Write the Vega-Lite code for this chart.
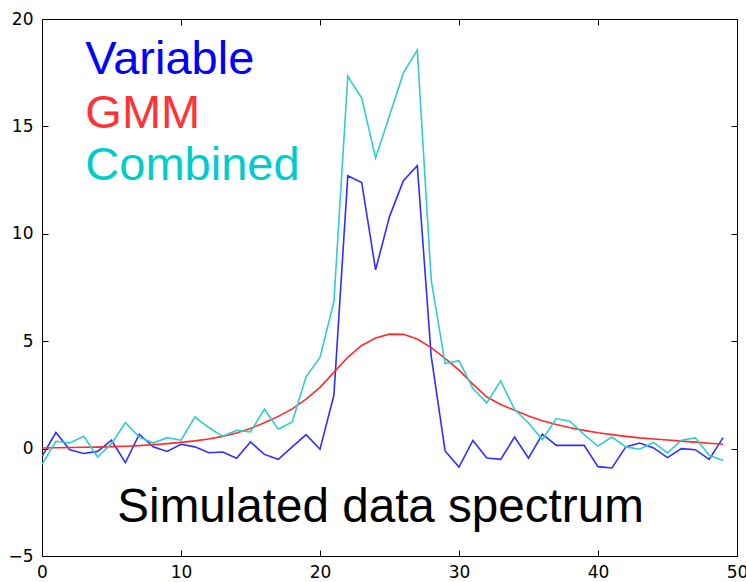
{
  "$schema": "https://vega.github.io/schema/vega-lite/v6.json",
  "width": 695,
  "height": 537,
  "autosize": {"type": "none"},
  "padding": {"left": 42, "top": 19, "right": 9, "bottom": 26},
  "background": "white",
  "resolve": {"axis": {"x": "independent", "y": "independent"}},
  "config": {
    "view": {"stroke": "black", "strokeWidth": 1},
    "axis": {
      "grid": false,
      "domain": false,
      "tickColor": "black",
      "tickSize": -6,
      "tickWidth": 1,
      "labelFont": "DejaVu Sans",
      "labelFontSize": 17,
      "labelColor": "black",
      "title": null
    }
  },
  "datasets": {
    "lines": [
      {"x":0,"series":"Variable","y":-0.36},{"x":1,"series":"Variable","y":0.75},{"x":2,"series":"Variable","y":-0.05},{"x":3,"series":"Variable","y":-0.23},{"x":4,"series":"Variable","y":-0.13},{"x":5,"series":"Variable","y":0.39},{"x":6,"series":"Variable","y":-0.65},{"x":7,"series":"Variable","y":0.67},{"x":8,"series":"Variable","y":0.08},{"x":9,"series":"Variable","y":-0.13},
      {"x":10,"series":"Variable","y":0.2},{"x":11,"series":"Variable","y":0.08},{"x":12,"series":"Variable","y":-0.19},{"x":13,"series":"Variable","y":-0.16},{"x":14,"series":"Variable","y":-0.45},{"x":15,"series":"Variable","y":0.31},{"x":16,"series":"Variable","y":-0.27},{"x":17,"series":"Variable","y":-0.5},{"x":18,"series":"Variable","y":0.08},{"x":19,"series":"Variable","y":0.65},
      {"x":20,"series":"Variable","y":-0.03},{"x":21,"series":"Variable","y":2.49},{"x":22,"series":"Variable","y":12.7},{"x":23,"series":"Variable","y":12.39},{"x":24,"series":"Variable","y":8.32},{"x":25,"series":"Variable","y":10.8},{"x":26,"series":"Variable","y":12.47},{"x":27,"series":"Variable","y":13.17},{"x":28,"series":"Variable","y":4.3},{"x":29,"series":"Variable","y":-0.11},
      {"x":30,"series":"Variable","y":-0.86},{"x":31,"series":"Variable","y":0.38},{"x":32,"series":"Variable","y":-0.44},{"x":33,"series":"Variable","y":-0.5},{"x":34,"series":"Variable","y":0.54},{"x":35,"series":"Variable","y":-0.45},{"x":36,"series":"Variable","y":0.67},{"x":37,"series":"Variable","y":0.15},{"x":38,"series":"Variable","y":0.15},{"x":39,"series":"Variable","y":0.15},
      {"x":40,"series":"Variable","y":-0.84},{"x":41,"series":"Variable","y":-0.9},{"x":42,"series":"Variable","y":0.08},{"x":43,"series":"Variable","y":0.26},{"x":44,"series":"Variable","y":0.03},{"x":45,"series":"Variable","y":-0.42},{"x":46,"series":"Variable","y":0.0},{"x":47,"series":"Variable","y":-0.05},{"x":48,"series":"Variable","y":-0.5},{"x":49,"series":"Variable","y":0.51},

      {"x":0,"series":"GMM","y":0.03},{"x":1,"series":"GMM","y":0.04},{"x":2,"series":"GMM","y":0.05},{"x":3,"series":"GMM","y":0.06},{"x":4,"series":"GMM","y":0.07},{"x":5,"series":"GMM","y":0.09},{"x":6,"series":"GMM","y":0.11},{"x":7,"series":"GMM","y":0.14},{"x":8,"series":"GMM","y":0.18},{"x":9,"series":"GMM","y":0.23},
      {"x":10,"series":"GMM","y":0.29},{"x":11,"series":"GMM","y":0.36},{"x":12,"series":"GMM","y":0.45},{"x":13,"series":"GMM","y":0.57},{"x":14,"series":"GMM","y":0.73},{"x":15,"series":"GMM","y":0.94},{"x":16,"series":"GMM","y":1.2},{"x":17,"series":"GMM","y":1.5},{"x":18,"series":"GMM","y":1.85},{"x":19,"series":"GMM","y":2.3},
      {"x":20,"series":"GMM","y":2.85},{"x":21,"series":"GMM","y":3.55},{"x":22,"series":"GMM","y":4.25},{"x":23,"series":"GMM","y":4.8},{"x":24,"series":"GMM","y":5.15},{"x":25,"series":"GMM","y":5.33},{"x":26,"series":"GMM","y":5.32},{"x":27,"series":"GMM","y":5.1},{"x":28,"series":"GMM","y":4.7},{"x":29,"series":"GMM","y":4.2},
      {"x":30,"series":"GMM","y":3.65},{"x":31,"series":"GMM","y":3.0},{"x":32,"series":"GMM","y":2.4},{"x":33,"series":"GMM","y":2.05},{"x":34,"series":"GMM","y":1.79},{"x":35,"series":"GMM","y":1.52},{"x":36,"series":"GMM","y":1.3},{"x":37,"series":"GMM","y":1.12},{"x":38,"series":"GMM","y":0.97},{"x":39,"series":"GMM","y":0.85},
      {"x":40,"series":"GMM","y":0.74},{"x":41,"series":"GMM","y":0.65},{"x":42,"series":"GMM","y":0.57},{"x":43,"series":"GMM","y":0.5},{"x":44,"series":"GMM","y":0.45},{"x":45,"series":"GMM","y":0.4},{"x":46,"series":"GMM","y":0.35},{"x":47,"series":"GMM","y":0.3},{"x":48,"series":"GMM","y":0.25},{"x":49,"series":"GMM","y":0.2},

      {"x":0,"series":"Combined","y":-0.73},{"x":1,"series":"Combined","y":0.34},{"x":2,"series":"Combined","y":0.26},{"x":3,"series":"Combined","y":0.57},{"x":4,"series":"Combined","y":-0.39},{"x":5,"series":"Combined","y":0.23},{"x":6,"series":"Combined","y":1.21},{"x":7,"series":"Combined","y":0.54},{"x":8,"series":"Combined","y":0.26},{"x":9,"series":"Combined","y":0.51},
      {"x":10,"series":"Combined","y":0.39},{"x":11,"series":"Combined","y":1.47},{"x":12,"series":"Combined","y":0.98},{"x":13,"series":"Combined","y":0.57},{"x":14,"series":"Combined","y":0.85},{"x":15,"series":"Combined","y":0.78},{"x":16,"series":"Combined","y":1.83},{"x":17,"series":"Combined","y":0.9},{"x":18,"series":"Combined","y":1.24},{"x":19,"series":"Combined","y":3.34},
      {"x":20,"series":"Combined","y":4.24},{"x":21,"series":"Combined","y":6.84},{"x":22,"series":"Combined","y":17.33},{"x":23,"series":"Combined","y":16.32},{"x":24,"series":"Combined","y":13.53},{"x":25,"series":"Combined","y":15.5},{"x":26,"series":"Combined","y":17.49},{"x":27,"series":"Combined","y":18.55},{"x":28,"series":"Combined","y":7.85},{"x":29,"series":"Combined","y":3.96},
      {"x":30,"series":"Combined","y":4.09},{"x":31,"series":"Combined","y":2.8},{"x":32,"series":"Combined","y":2.13},{"x":33,"series":"Combined","y":3.15},{"x":34,"series":"Combined","y":1.82},{"x":35,"series":"Combined","y":1.19},{"x":36,"series":"Combined","y":0.42},{"x":37,"series":"Combined","y":1.4},{"x":38,"series":"Combined","y":1.26},{"x":39,"series":"Combined","y":0.65},
      {"x":40,"series":"Combined","y":0.12},{"x":41,"series":"Combined","y":0.54},{"x":42,"series":"Combined","y":0.08},{"x":43,"series":"Combined","y":-0.03},{"x":44,"series":"Combined","y":0.29},{"x":45,"series":"Combined","y":-0.2},{"x":46,"series":"Combined","y":0.39},{"x":47,"series":"Combined","y":0.5},{"x":48,"series":"Combined","y":-0.31},{"x":49,"series":"Combined","y":-0.55}
    ]
  },
  "layer": [
    {
      "data": {"name": "lines"},
      "mark": {"type": "line", "strokeWidth": 1.6, "clip": true},
      "encoding": {
        "x": {"field": "x", "type": "quantitative",
              "scale": {"domain": [0, 50], "nice": false, "zero": false},
              "axis": {"orient": "bottom", "values": [0, 10, 20, 30, 40, 50], "labelPadding": 14, "labelFlush": false}},
        "y": {"field": "y", "type": "quantitative",
              "scale": {"domain": [-5, 20], "nice": false, "zero": false},
              "axis": {"orient": "left", "values": [-5, 0, 5, 10, 15, 20], "labelPadding": 15, "labelFlush": false}},
        "color": {"field": "series", "type": "nominal",
                  "scale": {"domain": ["Variable", "GMM", "Combined"], "range": ["#2e2eff", "#ff2a2a", "#33cccc"]},
                  "legend": null},
        "detail": {"field": "series"},
        "order": {"field": "x", "type": "quantitative"}
      }
    },
    {
      "data": {"values": [{"tick": 0}, {"tick": 10}, {"tick": 20}, {"tick": 30}, {"tick": 40}, {"tick": 50}]},
      "mark": {"type": "point", "opacity": 0},
      "encoding": {
        "x": {"field": "tick", "type": "quantitative",
              "axis": {"orient": "top", "values": [0, 10, 20, 30, 40, 50], "labels": false}}
      }
    },
    {
      "data": {"values": [{"tick": -5}, {"tick": 0}, {"tick": 5}, {"tick": 10}, {"tick": 15}, {"tick": 20}]},
      "mark": {"type": "point", "opacity": 0},
      "encoding": {
        "y": {"field": "tick", "type": "quantitative",
              "axis": {"orient": "right", "values": [-5, 0, 5, 10, 15, 20], "labels": false}}
      }
    },
    {
      "data": {"values": [{"label": "Variable", "tx": 3.12, "ty": 17.46}]},
      "mark": {"type": "text", "align": "left", "baseline": "alphabetic", "font": "Liberation Sans", "fontSize": 47, "color": "#0000ff"},
      "encoding": {"x": {"field": "tx", "type": "quantitative", "axis": null}, "y": {"field": "ty", "type": "quantitative", "axis": null}, "text": {"field": "label"}}
    },
    {
      "data": {"values": [{"label": "GMM", "tx": 3.12, "ty": 14.94}]},
      "mark": {"type": "text", "align": "left", "baseline": "alphabetic", "font": "Liberation Sans", "fontSize": 47, "color": "#ff3333"},
      "encoding": {"x": {"field": "tx", "type": "quantitative", "axis": null}, "y": {"field": "ty", "type": "quantitative", "axis": null}, "text": {"field": "label"}}
    },
    {
      "data": {"values": [{"label": "Combined", "tx": 3.12, "ty": 12.51}]},
      "mark": {"type": "text", "align": "left", "baseline": "alphabetic", "font": "Liberation Sans", "fontSize": 47, "color": "#00cccc"},
      "encoding": {"x": {"field": "tx", "type": "quantitative", "axis": null}, "y": {"field": "ty", "type": "quantitative", "axis": null}, "text": {"field": "label"}}
    },
    {
      "data": {"values": [{"label": "Simulated data spectrum", "tx": 5.42, "ty": -3.44}]},
      "mark": {"type": "text", "align": "left", "baseline": "alphabetic", "font": "Liberation Sans", "fontSize": 47.6, "color": "black"},
      "encoding": {"x": {"field": "tx", "type": "quantitative", "axis": null}, "y": {"field": "ty", "type": "quantitative", "axis": null}, "text": {"field": "label"}}
    }
  ]
}
